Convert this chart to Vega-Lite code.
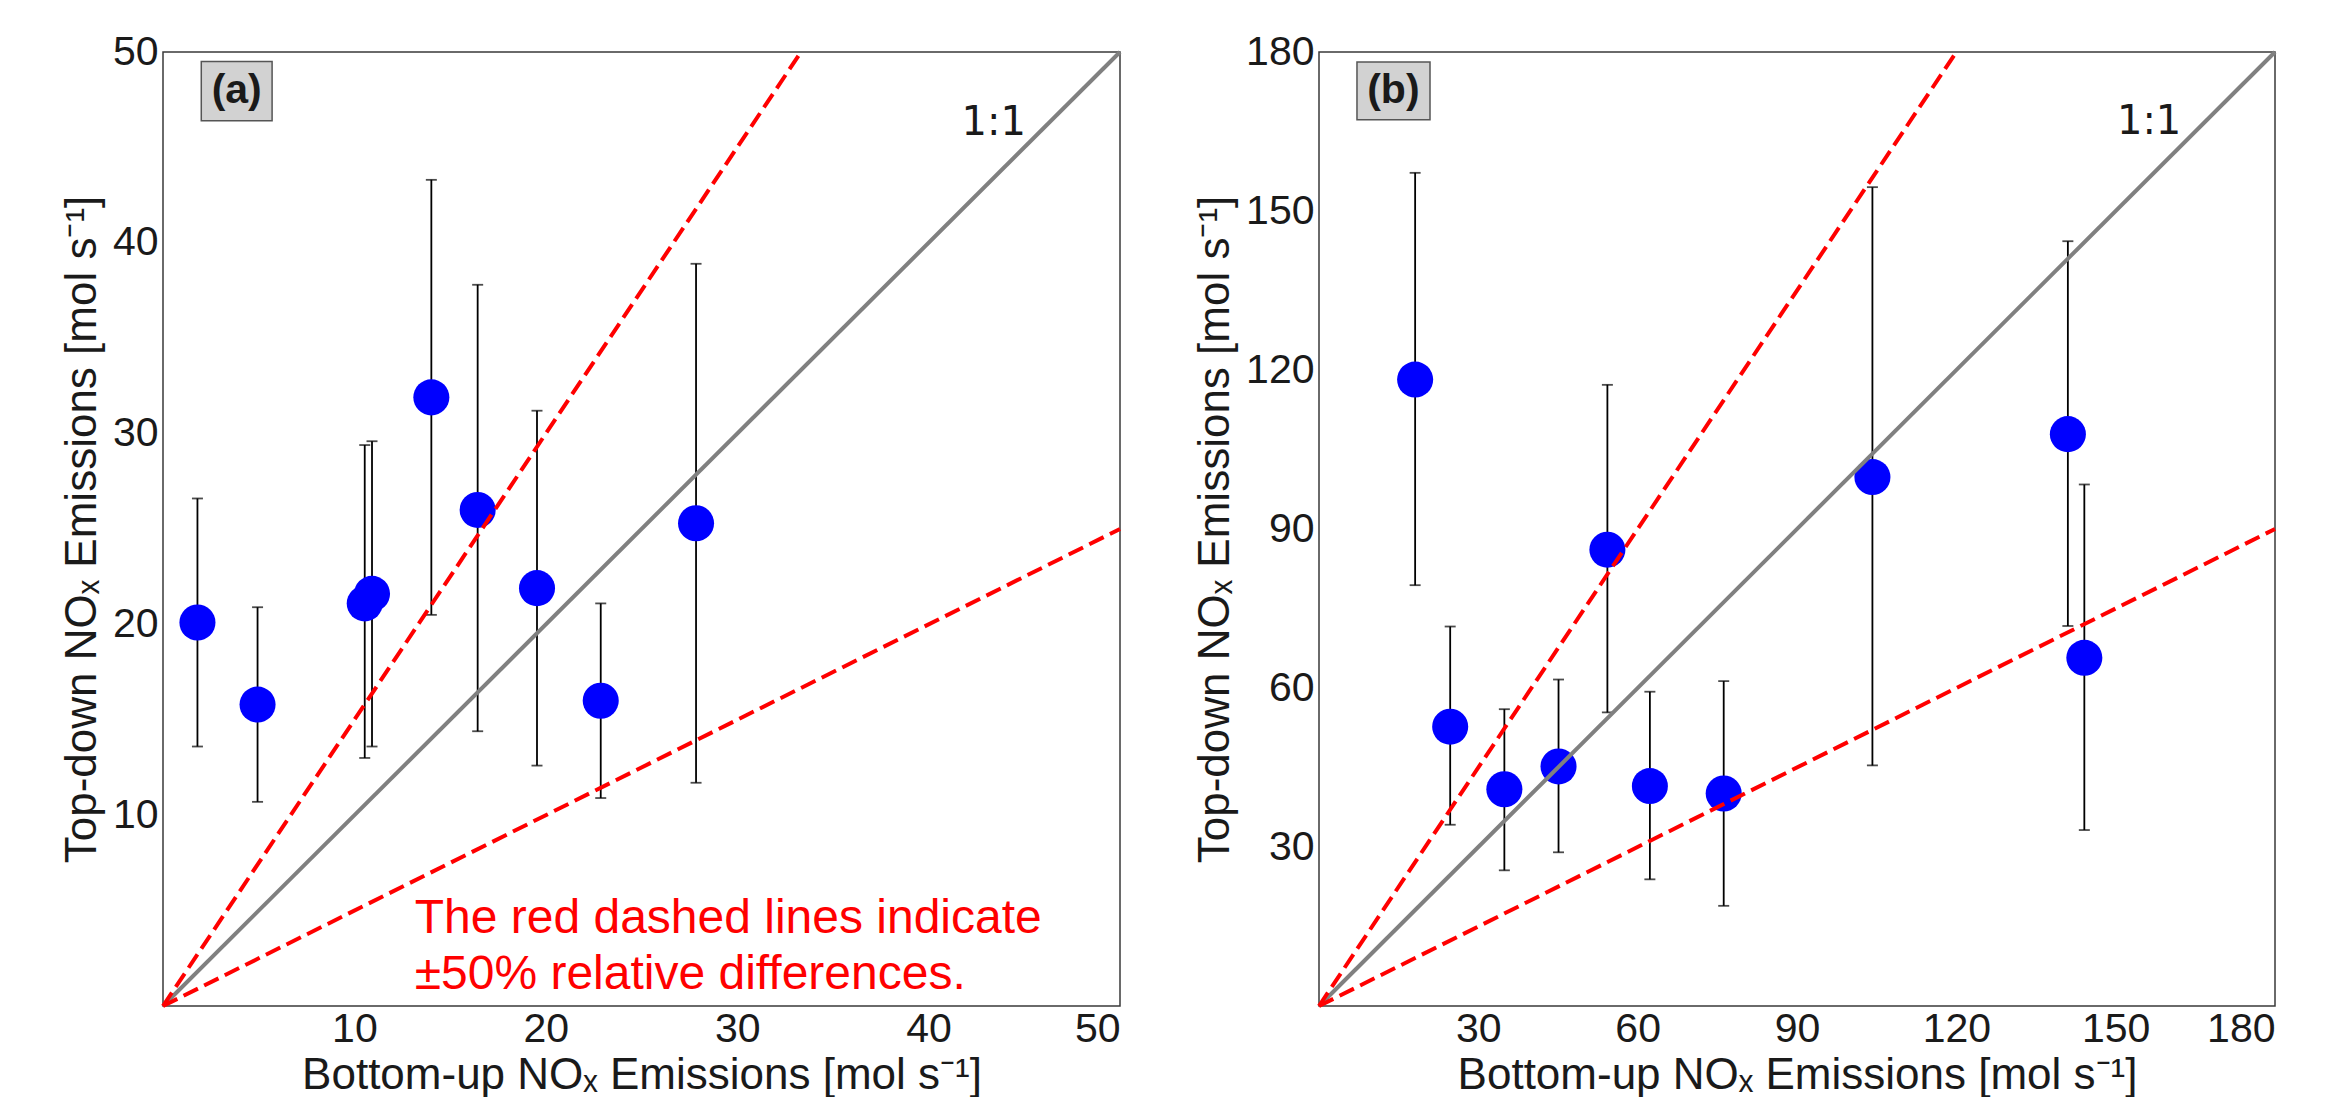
{
  "$schema": "https://vega.github.io/schema/vega-lite/v6.json",
  "background": "white",
  "padding": {"left": 59, "top": 30, "right": 5, "bottom": 5},
  "config": {
    "view": {"stroke": "#3a3a3a", "strokeWidth": 1.5},
    "font": "Liberation Sans",
    "axis": {
      "grid": false, "ticks": false, "tickSize": 0, "domain": false,
      "labelFont": "Liberation Sans", "labelFontSize": 41, "labelColor": "#1a1a1a",
      "titleFont": "Liberation Sans", "titleFontSize": 44, "titleFontWeight": "normal", "titleColor": "#1a1a1a"
    },
    "axisX": {"labelPadding": 3, "titlePadding": 4},
    "axisY": {"labelPadding": 5, "titlePadding": 8}
  },
  "datasets": {
    "points_a": [
      {"bottom_up": 1.8, "top_down": 20.1, "low": 13.6, "high": 26.6},
      {"bottom_up": 4.94, "top_down": 15.8, "low": 10.7, "high": 20.9},
      {"bottom_up": 10.54, "top_down": 21.1, "low": 13.0, "high": 29.4},
      {"bottom_up": 10.92, "top_down": 21.6, "low": 13.6, "high": 29.6},
      {"bottom_up": 14.02, "top_down": 31.9, "low": 20.5, "high": 43.3},
      {"bottom_up": 16.44, "top_down": 26.0, "low": 14.4, "high": 37.8},
      {"bottom_up": 19.54, "top_down": 21.9, "low": 12.6, "high": 31.2},
      {"bottom_up": 22.87, "top_down": 16.0, "low": 10.9, "high": 21.1},
      {"bottom_up": 27.85, "top_down": 25.3, "low": 11.7, "high": 38.9}
    ],
    "points_b": [
      {"bottom_up": 18.1, "top_down": 118.2, "low": 79.4, "high": 157.2},
      {"bottom_up": 24.7, "top_down": 52.7, "low": 34.2, "high": 71.6},
      {"bottom_up": 34.9, "top_down": 40.9, "low": 25.6, "high": 56.0},
      {"bottom_up": 45.1, "top_down": 45.2, "low": 29.0, "high": 61.6},
      {"bottom_up": 54.3, "top_down": 86.1, "low": 55.4, "high": 117.2},
      {"bottom_up": 62.3, "top_down": 41.5, "low": 23.9, "high": 59.3},
      {"bottom_up": 76.2, "top_down": 40.1, "low": 18.9, "high": 61.3},
      {"bottom_up": 104.2, "top_down": 99.8, "low": 45.4, "high": 154.5},
      {"bottom_up": 141.0, "top_down": 107.9, "low": 71.7, "high": 144.3},
      {"bottom_up": 144.1, "top_down": 65.7, "low": 33.2, "high": 98.4}
    ],
    "lines_a": [
      {"line": "1:1", "x": 0, "y": 0}, {"line": "1:1", "x": 50, "y": 50},
      {"line": "+50%", "x": 0, "y": 0}, {"line": "+50%", "x": 33.333, "y": 50},
      {"line": "-50%", "x": 0, "y": 0}, {"line": "-50%", "x": 50, "y": 25}
    ],
    "lines_b": [
      {"line": "1:1", "x": 0, "y": 0}, {"line": "1:1", "x": 180, "y": 180},
      {"line": "+50%", "x": 0, "y": 0}, {"line": "+50%", "x": 120, "y": 180},
      {"line": "-50%", "x": 0, "y": 0}, {"line": "-50%", "x": 180, "y": 90}
    ]
  },
  "spacing": 199,
  "bounds": "flush",
  "hconcat": [
    {
      "width": 957, "height": 954,
      "layer": [
        {
          "data": {"name": "points_a"},
          "mark": {"type": "rule", "color": "black", "strokeWidth": 1.8},
          "encoding": {
            "x": {"field": "bottom_up", "type": "quantitative", "scale": {"domain": [0, 50], "nice": false, "zero": false}, "axis": {"values": [10, 20, 30, 40, 50]}, "title": "Bottom-up NOₓ Emissions [mol s⁻¹]"},
            "y": {"field": "low", "type": "quantitative", "scale": {"domain": [0, 50], "nice": false, "zero": false}, "axis": {"values": [10, 20, 30, 40, 50]}, "title": "Top-down NOₓ Emissions [mol s⁻¹]"},
            "y2": {"field": "high"}
          }
        },
        {
          "data": {"name": "points_a"},
          "mark": {"type": "tick", "orient": "horizontal", "color": "black", "size": 11, "thickness": 1.8},
          "encoding": {
            "x": {"field": "bottom_up", "type": "quantitative", "title": "Bottom-up NOₓ Emissions [mol s⁻¹]"},
            "y": {"field": "high", "type": "quantitative", "title": "Top-down NOₓ Emissions [mol s⁻¹]"}
          }
        },
        {
          "data": {"name": "points_a"},
          "mark": {"type": "tick", "orient": "horizontal", "color": "black", "size": 11, "thickness": 1.8},
          "encoding": {
            "x": {"field": "bottom_up", "type": "quantitative", "title": "Bottom-up NOₓ Emissions [mol s⁻¹]"},
            "y": {"field": "low", "type": "quantitative", "title": "Top-down NOₓ Emissions [mol s⁻¹]"}
          }
        },
        {
          "data": {"name": "points_a"},
          "mark": {"type": "circle", "color": "#0000ff", "opacity": 1, "size": 1300},
          "encoding": {
            "x": {"field": "bottom_up", "type": "quantitative", "title": "Bottom-up NOₓ Emissions [mol s⁻¹]"},
            "y": {"field": "top_down", "type": "quantitative", "title": "Top-down NOₓ Emissions [mol s⁻¹]"}
          }
        },
        {
          "data": {"name": "lines_a"},
          "transform": [{"filter": "datum.line === '1:1'"}],
          "mark": {"type": "line", "color": "#808080", "strokeWidth": 4},
          "encoding": {
            "x": {"field": "x", "type": "quantitative", "title": "Bottom-up NOₓ Emissions [mol s⁻¹]"},
            "y": {"field": "y", "type": "quantitative", "title": "Top-down NOₓ Emissions [mol s⁻¹]"}
          }
        },
        {
          "data": {"name": "lines_a"},
          "transform": [{"filter": "datum.line !== '1:1'"}],
          "mark": {"type": "line", "color": "#ff0000", "strokeWidth": 4, "strokeDash": [16, 7]},
          "encoding": {
            "x": {"field": "x", "type": "quantitative", "title": "Bottom-up NOₓ Emissions [mol s⁻¹]"},
            "y": {"field": "y", "type": "quantitative", "title": "Top-down NOₓ Emissions [mol s⁻¹]"},
            "detail": {"field": "line", "type": "nominal"}
          }
        },
        {
          "data": {"values": [{}]},
          "mark": {"type": "rect", "fill": "#d2d2d2", "stroke": "#555555", "strokeWidth": 1.5},
          "encoding": {
            "x": {"datum": 2.0, "type": "quantitative"},
            "x2": {"datum": 5.7},
            "y": {"datum": 46.4, "type": "quantitative"},
            "y2": {"datum": 49.5}
          }
        },
        {
          "data": {"values": [{}]},
          "mark": {"type": "text", "text": "(a)", "font": "Liberation Sans", "fontWeight": "bold", "fontSize": 41, "color": "#1a1a1a", "align": "center", "baseline": "middle"},
          "encoding": {
            "x": {"datum": 3.85, "type": "quantitative"},
            "y": {"datum": 47.95, "type": "quantitative"}
          }
        },
        {
          "data": {"values": [{}]},
          "mark": {"type": "text", "text": "1:1", "font": "DejaVu Sans", "fontSize": 40, "color": "#1a1a1a", "align": "center", "baseline": "middle"},
          "encoding": {
            "x": {"datum": 43.4, "type": "quantitative"},
            "y": {"datum": 46.3, "type": "quantitative"}
          }
        },
        {
          "data": {"values": [{}]},
          "mark": {"type": "text", "text": ["The red dashed lines indicate", "±50% relative differences."], "font": "Liberation Sans", "fontSize": 48, "lineHeight": 56, "color": "#ff0000", "align": "left", "baseline": "alphabetic"},
          "encoding": {
            "x": {"datum": 13.15, "type": "quantitative"},
            "y": {"datum": 3.83, "type": "quantitative"}
          }
        }
      ]
    },
    {
      "width": 956, "height": 954,
      "layer": [
        {
          "data": {"name": "points_b"},
          "mark": {"type": "rule", "color": "black", "strokeWidth": 1.8},
          "encoding": {
            "x": {"field": "bottom_up", "type": "quantitative", "scale": {"domain": [0, 180], "nice": false, "zero": false}, "axis": {"values": [30, 60, 90, 120, 150, 180]}, "title": "Bottom-up NOₓ Emissions [mol s⁻¹]"},
            "y": {"field": "low", "type": "quantitative", "scale": {"domain": [0, 180], "nice": false, "zero": false}, "axis": {"values": [30, 60, 90, 120, 150, 180]}, "title": "Top-down NOₓ Emissions [mol s⁻¹]"},
            "y2": {"field": "high"}
          }
        },
        {
          "data": {"name": "points_b"},
          "mark": {"type": "tick", "orient": "horizontal", "color": "black", "size": 11, "thickness": 1.8},
          "encoding": {
            "x": {"field": "bottom_up", "type": "quantitative", "title": "Bottom-up NOₓ Emissions [mol s⁻¹]"},
            "y": {"field": "high", "type": "quantitative", "title": "Top-down NOₓ Emissions [mol s⁻¹]"}
          }
        },
        {
          "data": {"name": "points_b"},
          "mark": {"type": "tick", "orient": "horizontal", "color": "black", "size": 11, "thickness": 1.8},
          "encoding": {
            "x": {"field": "bottom_up", "type": "quantitative", "title": "Bottom-up NOₓ Emissions [mol s⁻¹]"},
            "y": {"field": "low", "type": "quantitative", "title": "Top-down NOₓ Emissions [mol s⁻¹]"}
          }
        },
        {
          "data": {"name": "points_b"},
          "mark": {"type": "circle", "color": "#0000ff", "opacity": 1, "size": 1300},
          "encoding": {
            "x": {"field": "bottom_up", "type": "quantitative", "title": "Bottom-up NOₓ Emissions [mol s⁻¹]"},
            "y": {"field": "top_down", "type": "quantitative", "title": "Top-down NOₓ Emissions [mol s⁻¹]"}
          }
        },
        {
          "data": {"name": "lines_b"},
          "transform": [{"filter": "datum.line === '1:1'"}],
          "mark": {"type": "line", "color": "#808080", "strokeWidth": 4},
          "encoding": {
            "x": {"field": "x", "type": "quantitative", "title": "Bottom-up NOₓ Emissions [mol s⁻¹]"},
            "y": {"field": "y", "type": "quantitative", "title": "Top-down NOₓ Emissions [mol s⁻¹]"}
          }
        },
        {
          "data": {"name": "lines_b"},
          "transform": [{"filter": "datum.line !== '1:1'"}],
          "mark": {"type": "line", "color": "#ff0000", "strokeWidth": 4, "strokeDash": [16, 7]},
          "encoding": {
            "x": {"field": "x", "type": "quantitative", "title": "Bottom-up NOₓ Emissions [mol s⁻¹]"},
            "y": {"field": "y", "type": "quantitative", "title": "Top-down NOₓ Emissions [mol s⁻¹]"},
            "detail": {"field": "line", "type": "nominal"}
          }
        },
        {
          "data": {"values": [{}]},
          "mark": {"type": "rect", "fill": "#d2d2d2", "stroke": "#555555", "strokeWidth": 1.5},
          "encoding": {
            "x": {"datum": 7.15, "type": "quantitative"},
            "x2": {"datum": 20.9},
            "y": {"datum": 167.2, "type": "quantitative"},
            "y2": {"datum": 178.1}
          }
        },
        {
          "data": {"values": [{}]},
          "mark": {"type": "text", "text": "(b)", "font": "Liberation Sans", "fontWeight": "bold", "fontSize": 41, "color": "#1a1a1a", "align": "center", "baseline": "middle"},
          "encoding": {
            "x": {"datum": 14.0, "type": "quantitative"},
            "y": {"datum": 172.65, "type": "quantitative"}
          }
        },
        {
          "data": {"values": [{}]},
          "mark": {"type": "text", "text": "1:1", "font": "DejaVu Sans", "fontSize": 40, "color": "#1a1a1a", "align": "center", "baseline": "middle"},
          "encoding": {
            "x": {"datum": 156.3, "type": "quantitative"},
            "y": {"datum": 166.7, "type": "quantitative"}
          }
        }
      ]
    }
  ]
}
